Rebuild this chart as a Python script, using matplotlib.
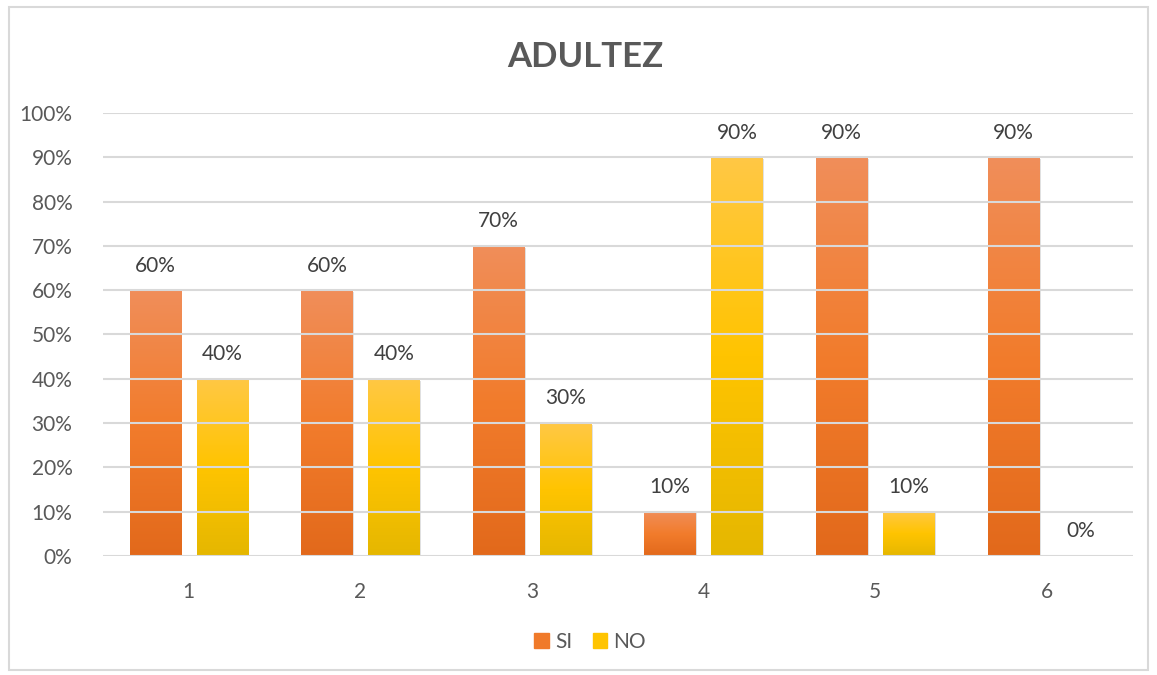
import numpy as np
import matplotlib.pyplot as plt
from matplotlib.colors import LinearSegmentedColormap
from matplotlib.patches import Rectangle

categories = ['1', '2', '3', '4', '5', '6']
si = [60, 60, 70, 10, 90, 90]
no = [40, 40, 30, 90, 10, 0]

plt.rcParams['font.family'] = ['Lato', 'DejaVu Sans']

fig = plt.figure(figsize=(11.57, 6.75), dpi=100)
ax = fig.add_axes([0.089, 0.1763, 0.890, 0.6563])

si_cmap = LinearSegmentedColormap.from_list('si', ['#E2691B', '#F27C2C', '#F08E5A'])
no_cmap = LinearSegmentedColormap.from_list('no', ['#E5B700', '#FFC400', '#FFC845'])

x = np.arange(len(categories))
w = 0.30
off = 0.195
grad = np.linspace(0, 1, 256).reshape(-1, 1)

def gradient_bars(xpos, vals, cmap):
    bars = ax.bar(xpos, vals, w, color='none', zorder=2)
    for b in bars:
        if b.get_height() <= 0:
            continue
        bx, by = b.get_x(), b.get_y()
        bw, bh = b.get_width(), b.get_height()
        # soft shadow
        ax.add_patch(Rectangle((bx + 0.008, by - 0.4), bw, bh, color='#000000',
                               alpha=0.12, lw=0, zorder=1))
        im = ax.imshow(grad, cmap=cmap, extent=[bx, bx + bw, by, by + bh],
                       origin='lower', aspect='auto', zorder=2)
        im.set_clip_path(b)
    return bars

gradient_bars(x - off, si, si_cmap)
gradient_bars(x + off, no, no_cmap)

for xi, v in zip(x - off, si):
    ax.text(xi, v + 3.3, f'{v}%', ha='center', va='bottom', fontsize=15, color='#404040')
for xi, v in zip(x + off, no):
    ax.text(xi, v + 3.3, f'{v}%', ha='center', va='bottom', fontsize=15, color='#404040')

ax.set_xlim(-0.5, len(categories) - 0.5)
ax.set_ylim(0, 100)
ax.set_yticks(np.arange(0, 101, 10))
ax.set_yticklabels([f'{t}%' for t in range(0, 101, 10)])
ax.set_xticks(x)
ax.set_xticklabels(categories)
ax.tick_params(length=0, labelsize=15, labelcolor='#595959')
ax.tick_params(axis='x', pad=19)
ax.tick_params(axis='y', pad=22)
ax.yaxis.grid(True, color='#D9D9D9', lw=1.5, zorder=3)
ax.set_axisbelow(False)
for s in ax.spines.values():
    s.set_visible(False)

fig.text(0.506, 0.915, 'ADULTEZ', ha='center', va='center', fontsize=25,
         fontweight='bold', color='#595959')

h1 = Rectangle((0, 0), 1, 1, color='#F07A2A')
h2 = Rectangle((0, 0), 1, 1, color='#FFC400')
fig.legend([h1, h2], ['SI', 'NO'], loc='center', bbox_to_anchor=(0.51, 0.049),
           ncol=2, frameon=False, fontsize=15, handlelength=0.7, handleheight=0.7,
           handletextpad=0.3, columnspacing=1.0, labelcolor='#595959')

fig.add_artist(Rectangle((0.0075, 0.008), 0.985, 0.981, transform=fig.transFigure,
                         fill=False, edgecolor='#D9D9D9', lw=1.5))

fig.savefig('out.png', dpi=100)
